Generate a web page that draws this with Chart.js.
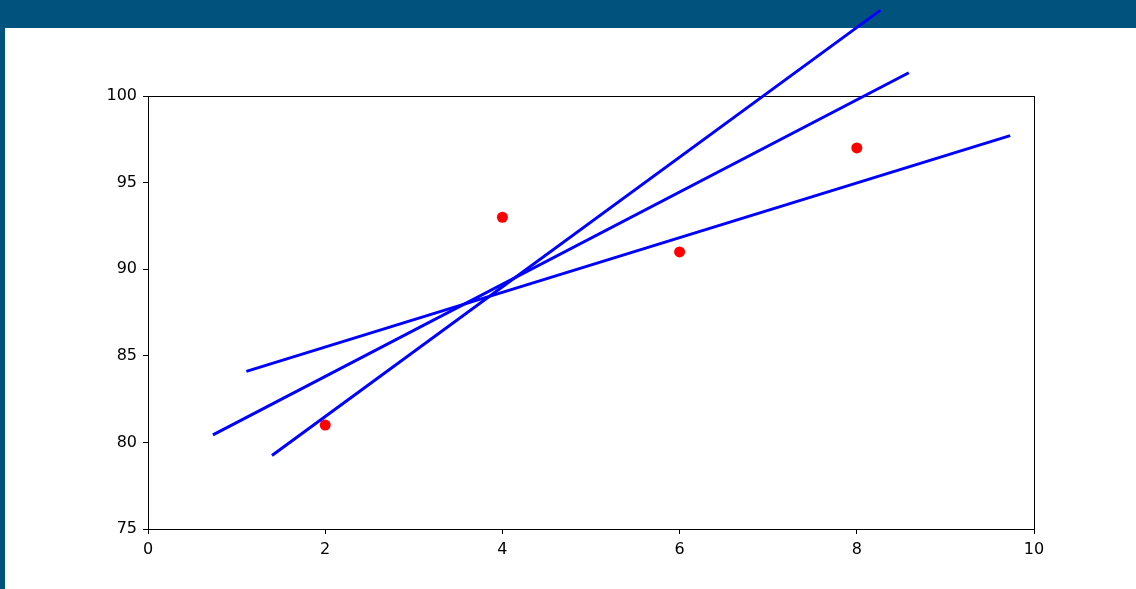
<!DOCTYPE html>
<html>
<head>
<meta charset="utf-8">
<script src="https://cdn.jsdelivr.net/npm/chart.js@4"></script>
<style>
  html, body { margin: 0; padding: 0; background: #fff; }
  body { width: 1136px; height: 589px; position: relative; overflow: hidden; }
  #topbar { position: absolute; left: 0; top: 0; width: 1136px; height: 28px; background: #01527d; }
  #sidebar { position: absolute; left: 0; top: 0; width: 5px; height: 589px; background: #01527d; }
  #chart { position: absolute; left: 0; top: 0; }
</style>
</head>
<body>
<div id="topbar"></div>
<div id="sidebar"></div>
<canvas id="chart" width="1136" height="589"></canvas>
<script>
// observed points
var pointX = [2, 4, 6, 8];
var pointY = [81, 93, 91, 97];

// three fitted lines, start and end
var lineStartX = [1.11, 0.733, 1.399];
var lineStartY = [84.10, 80.43, 79.24];
var lineEndX = [9.731, 8.587, 8.268];
var lineEndY = [97.71, 101.34, 104.96];

// axis ticks
var xTicks = [0, 2, 4, 6, 8, 10];
var yTicks = [75, 80, 85, 90, 95, 100];

var datasets = [];
for (var i = 0; i < lineStartX.length; i++) {
    datasets.push({
        data: [{x: lineStartX[i], y: lineStartY[i]}, {x: lineEndX[i], y: lineEndY[i]}],
        showLine: true,
        borderColor: '#0000ff',
        borderWidth: 3,
        pointRadius: 0,
        clip: false
    });
}
datasets.push({
    data: pointX.map(function (x, i) { return {x: x, y: pointY[i]}; }),
    backgroundColor: '#ff0000',
    borderWidth: 0,
    pointRadius: 5.5
});

// box around the plot like matplotlib spines
var frame = {
    id: 'frame',
    beforeDatasetsDraw: function (chart) {
        var a = chart.chartArea, c = chart.ctx;
        c.save();
        c.strokeStyle = '#000';
        c.lineWidth = 1;
        c.strokeRect(Math.round(a.left) + 0.5, Math.round(a.top) + 0.5,
            Math.round(a.right) - Math.round(a.left), Math.round(a.bottom) - Math.round(a.top));
        c.restore();
    }
};

var tickFont = { family: 'DejaVu Sans', size: 16 };

new Chart(document.getElementById('chart').getContext('2d'), {
    type: 'scatter',
    data: { datasets: datasets },
    plugins: [frame],
    options: {
        responsive: false,
        animation: false,
        events: [],
        layout: { padding: { top: 96, right: 102, left: 0, bottom: 0 } },
        plugins: { legend: { display: false }, tooltip: { enabled: false } },
        scales: {
            x: {
                type: 'linear',
                min: 0, max: 10,
                afterBuildTicks: function (s) { s.ticks = xTicks.map(function (v) { return {value: v}; }); },
                afterFit: function (s) { s.height = 60; },
                grid: { display: true, drawOnChartArea: false, drawTicks: true, tickLength: 5, color: '#000' },
                border: { display: false },
                ticks: { color: '#000', font: tickFont, padding: 6, maxRotation: 0 }
            },
            y: {
                min: 75, max: 100,
                afterBuildTicks: function (s) { s.ticks = yTicks.map(function (v) { return {value: v}; }); },
                afterFit: function (s) { s.width = 148; },
                grid: { display: true, drawOnChartArea: false, drawTicks: true, tickLength: 5, color: '#000' },
                border: { display: false },
                ticks: { color: '#000', font: tickFont, padding: 6 }
            }
        }
    }
});
</script>
</body>
</html>
